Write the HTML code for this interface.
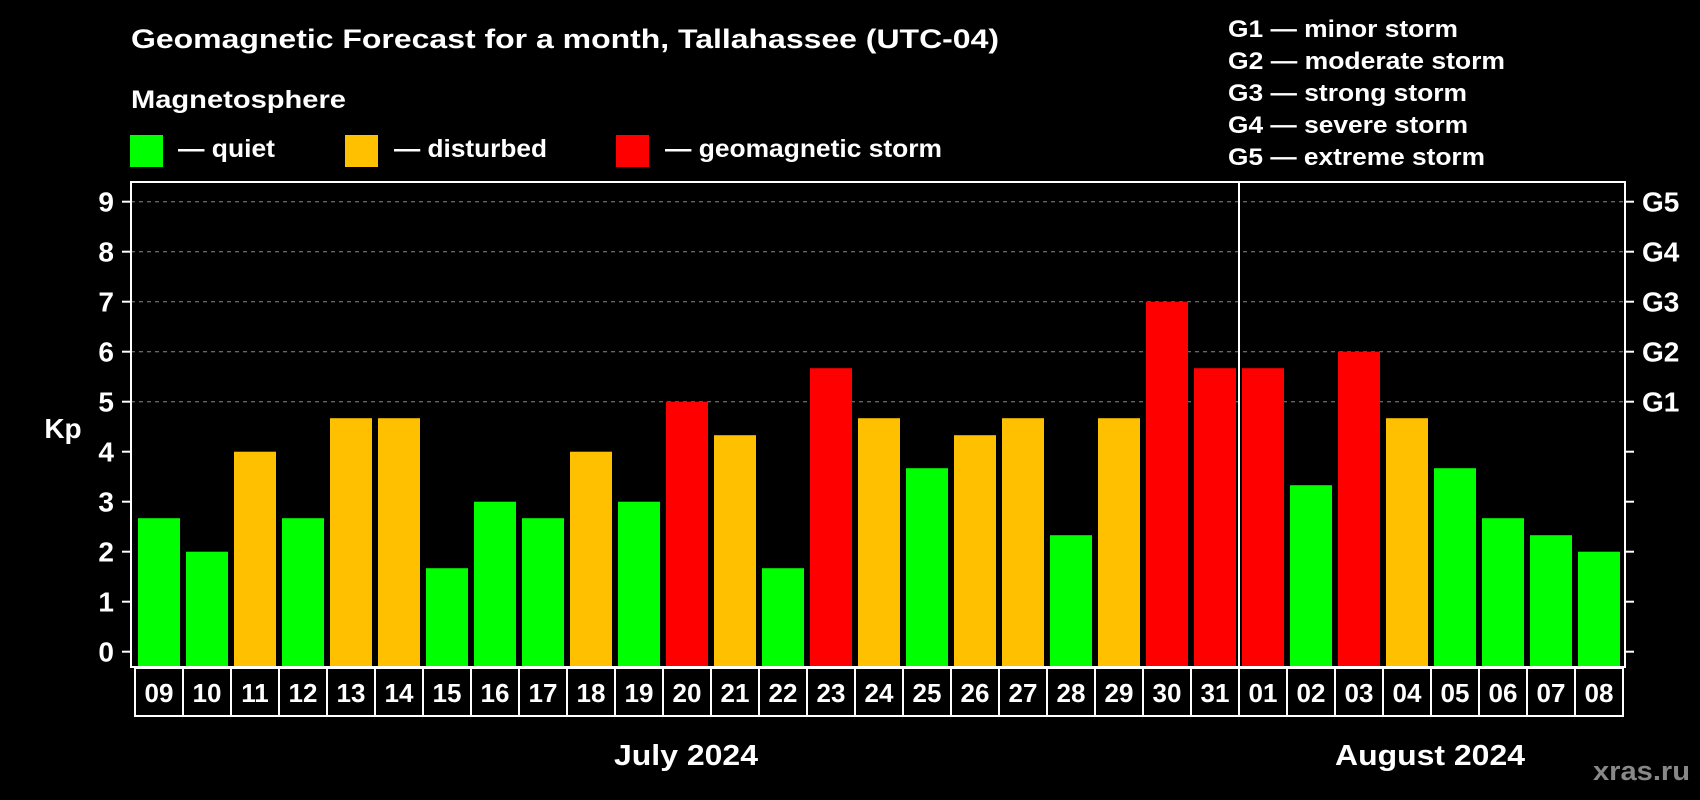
<!DOCTYPE html>
<html><head><meta charset="utf-8"><style>
html,body{margin:0;padding:0;background:#000;}
svg{display:block;font-family:"Liberation Sans",sans-serif;font-weight:bold;}
</style></head><body>
<svg id="chart" width="1700" height="800" viewBox="0 0 1700 800">
<rect x="0" y="0" width="1700" height="800" fill="#000"/>
<text x="131" y="48" font-size="27" fill="#fff" textLength="868" lengthAdjust="spacingAndGlyphs">Geomagnetic Forecast for a month, Tallahassee (UTC-04)</text>
<text x="131" y="108" font-size="25" fill="#fff" textLength="215" lengthAdjust="spacingAndGlyphs">Magnetosphere</text>
<g>
<rect x="130" y="135" width="33" height="32" fill="#00ff00"/>
<text x="178" y="157" font-size="25" fill="#fff" textLength="97" lengthAdjust="spacingAndGlyphs">— quiet</text></g>
<g>
<rect x="345" y="135" width="33" height="32" fill="#ffc000"/>
<text x="394" y="157" font-size="25" fill="#fff" textLength="153" lengthAdjust="spacingAndGlyphs">— disturbed</text></g>
<g>
<rect x="616" y="135" width="33" height="32" fill="#ff0000"/>
<text x="665" y="157" font-size="25" fill="#fff" textLength="277" lengthAdjust="spacingAndGlyphs">— geomagnetic storm</text></g>
<g font-size="24" fill="#fff">
<text x="1228" y="37" textLength="230" lengthAdjust="spacingAndGlyphs">G1 — minor storm</text>
<text x="1228" y="69" textLength="277" lengthAdjust="spacingAndGlyphs">G2 — moderate storm</text>
<text x="1228" y="101" textLength="239" lengthAdjust="spacingAndGlyphs">G3 — strong storm</text>
<text x="1228" y="133" textLength="240" lengthAdjust="spacingAndGlyphs">G4 — severe storm</text>
<text x="1228" y="165" textLength="257" lengthAdjust="spacingAndGlyphs">G5 — extreme storm</text>
</g>
<text x="63" y="438" font-size="28" fill="#fff" text-anchor="middle">Kp</text>
<g id="grid"></g>
<g id="bars"></g>
<g id="axes"></g>
<g id="xlabels"></g>
<text x="686" y="765" font-size="29" fill="#fff" text-anchor="middle" textLength="144" lengthAdjust="spacingAndGlyphs">July 2024</text>
<text x="1430" y="765" font-size="29" fill="#fff" text-anchor="middle" textLength="190" lengthAdjust="spacingAndGlyphs">August 2024</text>
<text x="1690" y="780" font-size="27" fill="#888" text-anchor="end" textLength="97" lengthAdjust="spacingAndGlyphs">xras.ru</text>
</svg>
<script>
const days = ["09","10","11","12","13","14","15","16","17","18","19","20","21","22","23","24","25","26","27","28","29","30","31","01","02","03","04","05","06","07","08"];
const kpValues = [2.67,2,4,2.67,4.67,4.67,1.67,3,2.67,4,3,5,4.33,1.67,5.67,4.67,3.67,4.33,4.67,2.33,4.67,7,5.67,5.67,3.33,6,4.67,3.67,2.67,2.33,2];
const yTicks = [0,1,2,3,4,5,6,7,8,9];
const gLabels = ["G1","G2","G3","G4","G5"];
const gLevels = [5,6,7,8,9];
const monthSplitIndex = 23;

const NS = "http://www.w3.org/2000/svg";
const L = 131, R = 1625, T = 182, B = 667;
const slot0 = 135, pitch = 48, barW = 42, barOff = 3;
function y(v){ return 651.7 - v*50; }
function xSlot(i){ return slot0 + i*pitch; }
function mk(tag, attrs, parent){ const e=document.createElementNS(NS,tag); for(const k in attrs) e.setAttribute(k,attrs[k]); parent.appendChild(e); return e; }
function color(v){ return v>=5 ? "#ff0000" : (v>=4 ? "#ffc000" : "#00ff00"); }

const grid = document.getElementById("grid");
gLevels.forEach(v=>{
  const ln = mk("line",{x1:L,x2:R,y1:y(v),y2:y(v),stroke:"#888","stroke-width":1,"stroke-dasharray":"4,4"},grid);
  
  
});

const bars = document.getElementById("bars");
kpValues.forEach((v,i)=>{
  const r = mk("rect",{x:xSlot(i)+barOff,y:y(v),width:barW,height:B-y(v),fill:color(v)},bars);
  
  
});

const axes = document.getElementById("axes");
const frame = mk("rect",{x:L,y:T,width:R-L,height:B-T,fill:"none",stroke:"#fff","stroke-width":2},axes);


const sep = mk("line",{x1:xSlot(monthSplitIndex),x2:xSlot(monthSplitIndex),y1:T,y2:716,stroke:"#fff","stroke-width":2},axes);


yTicks.forEach(v=>{
  const t1 = mk("line",{x1:122,x2:L,y1:y(v),y2:y(v),stroke:"#fff","stroke-width":2},axes);
  
  
  const t2 = mk("line",{x1:R,x2:1634,y1:y(v),y2:y(v),stroke:"#fff","stroke-width":2},axes);
  
  
  const tx = mk("text",{x:114,y:y(v)+10,"font-size":28,fill:"#fff","text-anchor":"end"},axes);
  tx.textContent = v;
  
  
});
gLabels.forEach((g,i)=>{
  const tx = mk("text",{x:1642,y:y(gLevels[i])+10,"font-size":28,fill:"#fff"},axes);
  tx.textContent = g;
  
  
});

const xl = document.getElementById("xlabels");
days.forEach((d,i)=>{
  const bx = mk("rect",{x:xSlot(i),y:668,width:pitch,height:48,fill:"#000",stroke:"#fff","stroke-width":2},xl);
  
  
  const tx = mk("text",{x:xSlot(i)+pitch/2,y:702,"font-size":26,fill:"#fff","text-anchor":"middle"},xl);
  tx.textContent = d;
  
  
});
</script>
</body></html>
